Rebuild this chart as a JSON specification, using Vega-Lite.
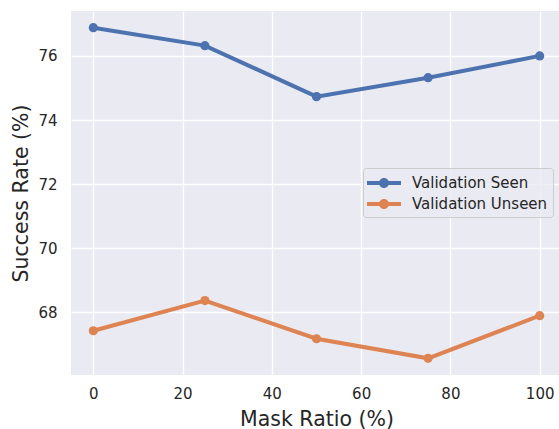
{
  "$schema": "https://vega.github.io/schema/vega-lite/v6.json",
  "width": 491,
  "height": 364,
  "autosize": {"type": "none"},
  "padding": {"left": 71, "top": 11, "right": 0, "bottom": 54},
  "background": "white",
  "config": {
    "view": {"fill": "#EAEAF2", "stroke": null},
    "font": "DejaVu Sans",
    "axis": {
      "domain": false, "ticks": false, "tickSize": 0,
      "gridColor": "white", "gridWidth": 1.3,
      "labelFont": "DejaVu Sans", "labelFontSize": 15, "labelColor": "#262626",
      "titleFont": "DejaVu Sans", "titleFontSize": 20.5, "titleColor": "#262626", "titleFontWeight": "normal"
    }
  },
  "data": {"values": [
    {"ratio": 0, "rate": 76.88, "series": "Validation Seen"},
    {"ratio": 25, "rate": 76.32, "series": "Validation Seen"},
    {"ratio": 50, "rate": 74.73, "series": "Validation Seen"},
    {"ratio": 75, "rate": 75.32, "series": "Validation Seen"},
    {"ratio": 100, "rate": 76.0, "series": "Validation Seen"},
    {"ratio": 0, "rate": 67.43, "series": "Validation Unseen"},
    {"ratio": 25, "rate": 68.37, "series": "Validation Unseen"},
    {"ratio": 50, "rate": 67.18, "series": "Validation Unseen"},
    {"ratio": 75, "rate": 66.57, "series": "Validation Unseen"},
    {"ratio": 100, "rate": 67.9, "series": "Validation Unseen"}
  ]},
  "encoding": {
    "x": {"field": "ratio", "type": "quantitative",
      "scale": {"domain": [-5, 105], "nice": false, "zero": false},
      "axis": {"values": [0, 20, 40, 60, 80, 100], "labelPadding": 11, "titlePadding": 8, "title": "Mask Ratio (%)"}},
    "y": {"field": "rate", "type": "quantitative",
      "scale": {"domain": [66.05, 77.4], "nice": false, "zero": false},
      "axis": {"values": [68, 70, 72, 74, 76], "labelPadding": 14, "titlePadding": 6, "title": "Success Rate (%)"}},
    "color": {"field": "series", "type": "nominal",
      "scale": {"domain": ["Validation Seen", "Validation Unseen"], "range": ["#4C72B0", "#DD8452"]},
      "legend": {
        "title": null, "orient": "none", "legendX": 292, "legendY": 157,
        "fillColor": "rgba(234,234,242,0.8)", "strokeColor": "#CCCCCC", "cornerRadius": 3,
        "padding": 5, "rowPadding": 3,
        "labelFont": "DejaVu Sans", "labelFontSize": 15, "labelColor": "#262626", "labelOffset": 18,
        "symbolType": "M-1.7,-0.2H-0.45V0.2H-1.7Z M0.45,-0.2H1.7V0.2H0.45Z M0.5,0A0.5,0.5 0 1,1 -0.5,0A0.5,0.5 0 1,1 0.5,0Z",
        "symbolSize": 400, "symbolOffset": 6, "symbolStrokeWidth": 0, "symbolOpacity": 1
      }}
  },
  "layer": [
    {"mark": {"type": "line", "strokeWidth": 4}},
    {"mark": {"type": "point", "filled": true, "size": 85, "opacity": 1}}
  ]
}
